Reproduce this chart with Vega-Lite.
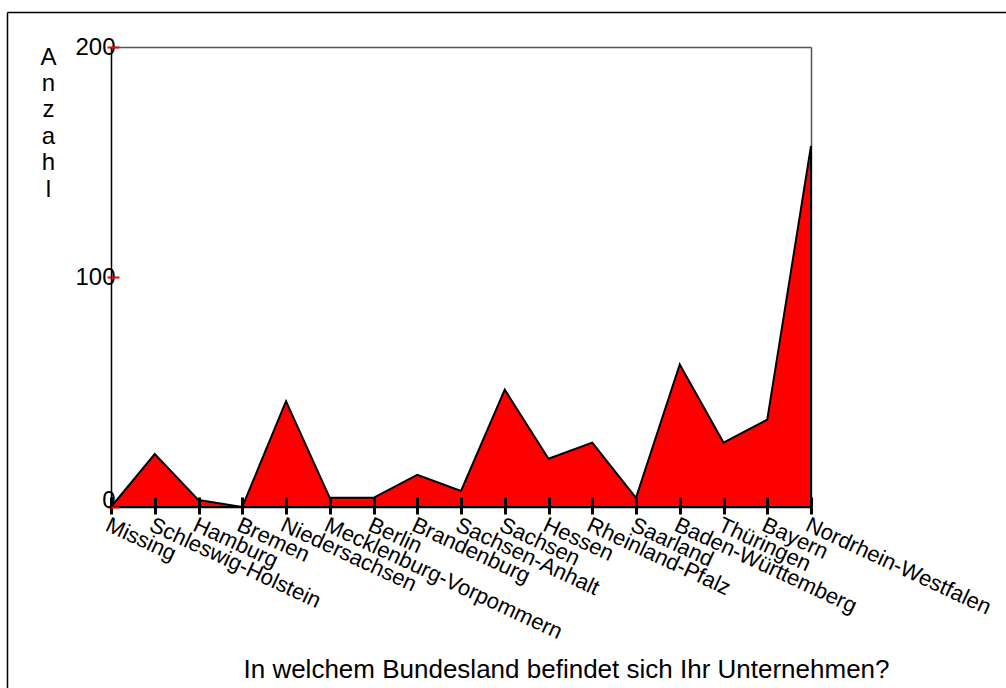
{
  "$schema": "https://vega.github.io/schema/vega-lite/v6.json",
  "width": 999,
  "height": 676,
  "autosize": {"type": "none"},
  "padding": {"left": 7, "top": 12, "right": 0, "bottom": 0},
  "background": "white",
  "config": {
    "view": {"stroke": null},
    "font": "Liberation Sans",
    "axis": {"grid": false, "labelFont": "Liberation Sans", "titleFont": "Liberation Sans"}
  },
  "data": {
    "values": [
      {"land": "Missing", "n": 0},
      {"land": "Schleswig-Holstein", "n": 23},
      {"land": "Hamburg", "n": 3},
      {"land": "Bremen", "n": 0},
      {"land": "Niedersachsen", "n": 46},
      {"land": "Mecklenburg-Vorpommern", "n": 4},
      {"land": "Berlin", "n": 4},
      {"land": "Brandenburg", "n": 14},
      {"land": "Sachsen-Anhalt", "n": 7},
      {"land": "Sachsen", "n": 51},
      {"land": "Hessen", "n": 21},
      {"land": "Rheinland-Pfalz", "n": 28},
      {"land": "Saarland", "n": 4},
      {"land": "Baden-Württemberg", "n": 62},
      {"land": "Thüringen", "n": 28},
      {"land": "Bayern", "n": 38},
      {"land": "Nordrhein-Westfalen", "n": 157}
    ]
  },
  "layer": [
    {
      "layer": [
        {
          "mark": {"type": "area", "color": "#ff0000", "fillOpacity": 1, "stroke": "black", "strokeWidth": 2, "strokeJoin": "miter"},
          "encoding": {
            "x": {
              "field": "land", "type": "ordinal", "sort": null,
              "scale": {"type": "point", "range": [104, 804], "padding": 0},
              "axis": {
                "orient": "bottom", "offset": -181,
                "domainColor": "black", "domainWidth": 1.5,
                "tickColor": "black", "tickWidth": 3, "tickSize": 7,
                "labelAngle": 25, "labelAlign": "left", "labelBaseline": "top", "labelPadding": 0,
                "labelFontSize": 22, "labelColor": "black", "labelOverlap": false, "labelLimit": 0, "labelBound": false,
                "title": "In welchem Bundesland befindet sich Ihr Unternehmen?",
                "titleFontSize": 26, "titleFontWeight": "normal", "titleColor": "black",
                "titleX": 559, "titleY": 170, "titleAlign": "center", "titleBaseline": "alphabetic"
              }
            },
            "y": {
              "field": "n", "type": "quantitative",
              "scale": {"domain": [0, 200], "range": [495, 35], "nice": false, "zero": true},
              "axis": {
                "orient": "left", "offset": -104, "values": [0, 100, 200],
                "domainColor": "black", "domainWidth": 1.5,
                "tickColor": "#ff0000", "tickWidth": 2, "tickSize": 4,
                "labelPadding": -8, "labelFontSize": 24, "labelColor": "black",
                "labelBaseline": {"condition": {"test": "datum.value === 0", "value": "alphabetic"}, "value": "middle"},
                "labelFlush": false, "labelBound": false, "labelOverlap": false,
                "title": ["A", "n", "z", "a", "h", "l"],
                "titleAngle": 0, "titleFontSize": 24, "titleFontWeight": "normal", "titleColor": "black",
                "titleX": -63, "titleY": 33, "titleAlign": "center", "titleBaseline": "top", "titleLineHeight": 26.4
              }
            }
          }
        },
        {
          "mark": {"type": "point", "opacity": 0},
          "encoding": {
            "x": {
              "field": "land", "type": "ordinal", "sort": null,
              "axis": {"orient": "top", "offset": -495, "domain": false, "labels": false, "tickColor": "black", "tickWidth": 3, "tickSize": 10, "title": null, "zindex": 1}
            },
            "y": {
              "field": "n", "type": "quantitative",
              "axis": {"orient": "right", "offset": -895, "domain": false, "labels": false, "values": [0, 100, 200], "tickColor": "#ff0000", "tickWidth": 2, "tickSize": 8, "title": null, "zindex": 1}
            }
          }
        },
        {
          "mark": {"type": "point", "opacity": 0},
          "encoding": {
            "x": {
              "field": "land", "type": "ordinal", "sort": null,
              "axis": {"orient": "top", "offset": -35, "domainColor": "#555555", "domainWidth": 1.5, "ticks": false, "labels": false, "title": null}
            },
            "y": {
              "field": "n", "type": "quantitative",
              "axis": {"orient": "right", "offset": -195, "domainColor": "#555555", "domainWidth": 1.5, "ticks": false, "labels": false, "title": null}
            }
          }
        }
      ],
      "resolve": {"axis": {"x": "independent", "y": "independent"}}
    },
    {
      "mark": {"type": "point", "opacity": 0},
      "encoding": {
        "x": {
          "field": "n", "type": "quantitative",
          "axis": {"orient": "top", "offset": 0, "domainColor": "black", "domainWidth": 1.5, "ticks": false, "labels": false, "title": null}
        },
        "y": {
          "field": "n", "type": "quantitative",
          "axis": {"orient": "left", "offset": 0, "domainColor": "black", "domainWidth": 1.5, "ticks": false, "labels": false, "title": null}
        }
      }
    }
  ],
  "resolve": {"scale": {"x": "independent", "y": "independent"}, "axis": {"x": "independent", "y": "independent"}}
}
